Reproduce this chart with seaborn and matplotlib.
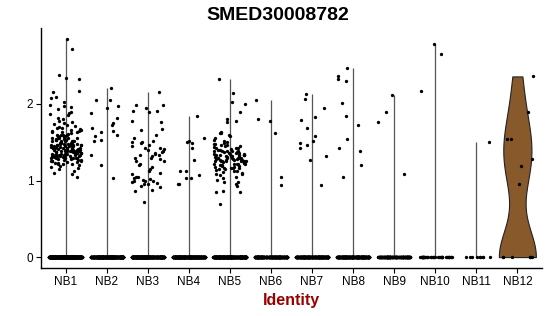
import numpy as np
import pandas as pd
import matplotlib
matplotlib.use("Agg")
import matplotlib.pyplot as plt
import seaborn as sns

groups = ["NB1", "NB2", "NB3", "NB4", "NB5", "NB6", "NB7", "NB8", "NB9", "NB10", "NB11", "NB12"]

# number of cells with zero expression per identity (estimated)
zero_counts = [600, 450, 450, 420, 450, 300, 320, 330, 180, 40, 9, 6]

nb1 = [2.85, 2.72, 2.38, 2.34, 2.33, 2.17, 2.16, 2.09, 2.08, 2.02, 1.99, 1.97, 1.96, 1.93, 1.90,
       1.88, 1.87, 1.85, 1.82, 1.80, 1.78, 1.77, 1.75, 1.74, 1.72, 1.71, 1.70, 1.69, 1.68, 1.67,
       1.66, 1.66, 1.65, 1.64, 1.63, 1.63, 1.62, 1.61, 1.60, 1.60, 1.59, 1.58, 1.58, 1.57, 1.57,
       1.56, 1.56, 1.55, 1.55, 1.54, 1.54, 1.53, 1.53, 1.52, 1.52, 1.52, 1.51, 1.51, 1.50, 1.50,
       1.50, 1.49, 1.49, 1.48, 1.48, 1.48, 1.47, 1.47, 1.47, 1.46, 1.46, 1.46, 1.45, 1.45, 1.45,
       1.44, 1.44, 1.44, 1.43, 1.43, 1.43, 1.42, 1.42, 1.42, 1.42, 1.41, 1.41, 1.41, 1.40, 1.40,
       1.40, 1.40, 1.39, 1.39, 1.39, 1.38, 1.38, 1.38, 1.38, 1.37, 1.37, 1.37, 1.36, 1.36, 1.36,
       1.35, 1.35, 1.35, 1.34, 1.34, 1.34, 1.33, 1.33, 1.33, 1.32, 1.32, 1.32, 1.31, 1.31, 1.30,
       1.30, 1.30, 1.29, 1.29, 1.28, 1.28, 1.27, 1.27, 1.26, 1.26, 1.25, 1.25, 1.24, 1.24, 1.23,
       1.22, 1.21, 1.20, 1.19, 1.18, 1.17, 1.15, 1.13, 1.10, 1.08, 1.05,
       1.51, 1.49, 1.47, 1.45, 1.44, 1.43, 1.41, 1.40, 1.39, 1.37, 1.36, 1.35, 1.33, 1.31, 1.29,
       1.46, 1.42, 1.38, 1.34, 1.30, 1.27, 1.55, 1.53, 1.48, 1.36, 1.32, 1.23, 1.21, 1.60, 1.65]
nb2 = [2.21, 2.05, 2.05, 1.97, 1.95, 1.88, 1.82, 1.75, 1.72, 1.68, 1.65, 1.63, 1.60, 1.58,
       1.53, 1.52, 1.33, 1.20, 1.03]
nb3 = [2.16, 1.99, 1.99, 1.95, 1.91, 1.91, 1.89, 1.78, 1.76, 1.67, 1.66, 1.60, 1.55, 1.52,
       1.50, 1.50, 1.49, 1.47, 1.45, 1.43, 1.42, 1.40, 1.38, 1.37, 1.36, 1.35, 1.33, 1.32, 1.30,
       1.28, 1.26, 1.25, 1.22, 1.20, 1.18, 1.15, 1.12, 1.10, 1.08, 1.05, 1.04, 1.02, 1.01, 1.00,
       0.99, 0.98, 0.97, 0.96, 0.95, 0.93, 0.91, 0.88, 0.86, 0.72, 1.41, 1.34, 1.29, 1.03, 0.99]
nb4 = [1.84, 1.55, 1.52, 1.50, 1.49, 1.43, 1.27, 1.13, 1.12, 1.07, 1.03, 1.03, 0.95, 0.95]
nb5 = [2.33, 2.14, 2.02, 2.00, 1.89, 1.80, 1.78, 1.76, 1.63, 1.62, 1.62, 1.60, 1.58, 1.55,
       1.53, 1.52, 1.50, 1.49, 1.48, 1.48, 1.47, 1.46, 1.45, 1.45, 1.44, 1.43, 1.42, 1.42, 1.41,
       1.40, 1.40, 1.39, 1.39, 1.38, 1.38, 1.37, 1.37, 1.36, 1.36, 1.35, 1.35, 1.35, 1.34, 1.34,
       1.33, 1.33, 1.33, 1.32, 1.32, 1.31, 1.31, 1.31, 1.30, 1.30, 1.30, 1.29, 1.29, 1.29, 1.28,
       1.28, 1.28, 1.27, 1.27, 1.27, 1.26, 1.26, 1.26, 1.25, 1.25, 1.25, 1.24, 1.24, 1.23, 1.23,
       1.22, 1.22, 1.21, 1.21, 1.20, 1.20, 1.19, 1.19, 1.18, 1.18, 1.17, 1.17, 1.16, 1.16, 1.15,
       1.15, 1.14, 1.13, 1.12, 1.11, 1.10, 1.09, 1.08, 1.07, 1.05, 1.03, 1.01, 0.98, 0.98, 0.95,
       0.93, 0.86, 0.85, 0.85, 0.70, 1.34, 1.32, 1.30, 1.28, 1.26, 1.24, 1.22, 1.36, 1.38, 1.27]
nb6 = [2.05, 1.80, 1.78, 1.62, 1.05, 0.94]
nb7 = [2.13, 2.07, 1.95, 1.83, 1.79, 1.69, 1.58, 1.52, 1.49, 1.47, 1.43, 1.32, 1.27, 0.94]
nb8 = [2.47, 2.37, 2.33, 2.30, 2.01, 1.84, 1.72, 1.54, 1.43, 1.39, 1.20, 1.05]
nb9 = [2.12, 1.90, 1.76, 1.08]
nb10 = [2.78, 2.65, 2.17]
nb11 = [1.50]
nb12 = [2.36, 1.89, 1.54, 1.54, 1.28, 1.19, 0.95]

nonzero = [nb1, nb2, nb3, nb4, nb5, nb6, nb7, nb8, nb9, nb10, nb11, nb12]

rows = []
for g, zc, vals in zip(groups, zero_counts, nonzero):
    for v in list(vals) + [0.0] * zc:
        rows.append((g, v))
df = pd.DataFrame(rows, columns=["ident", "expr"])

sns.set_theme(style="ticks")
plt.rcParams["font.family"] = ["Liberation Sans", "DejaVu Sans"]
plt.rcParams["text.color"] = "black"
plt.rcParams["xtick.color"] = "black"
plt.rcParams["ytick.color"] = "black"
plt.rcParams["axes.labelcolor"] = "black"

fig = plt.figure(figsize=(5.5, 3.16), dpi=100)
ax = fig.add_axes([41 / 550, 1 - 268 / 316, (542 - 41) / 550, (268 - 28) / 316])

# thin (degenerate) violins for mostly-zero identities
maxes = df[df.ident != "NB12"].groupby("ident", sort=False)["expr"].max()
pos = [groups.index(g) for g in maxes.index]
ax.vlines(pos, 0, maxes.values, color="#555555", linewidth=0.9, zorder=1)

# proper violin for NB12
sns.violinplot(data=df[df.ident == "NB12"], x="ident", y="expr", order=groups,
               color="#87592B", saturation=1, density_norm="width", cut=0, width=0.9,
               inner=None, linewidth=0.8, linecolor="#222222", bw_adjust=0.72, ax=ax)

np.random.seed(3)
sns.stripplot(data=df, x="ident", y="expr", order=groups, jitter=0.4, color="black",
              size=2.4, linewidth=0, ax=ax, zorder=3)

ymax = df.expr.max()
ax.set_ylim(-0.05 * ymax, ymax * 1.05)
ax.set_xlim(-0.6, len(groups) - 0.4)
ax.set_yticks([0, 1, 2])
ax.set_ylabel("")
ax.set_xlabel("Identity", fontsize=11.5, fontweight="bold", color="#9B0000", labelpad=4)
ax.tick_params(axis="both", labelsize=8.5, length=3.5, width=0.8, color="black",
               labelcolor="black", pad=2)
for s in ["top", "right"]:
    ax.spines[s].set_visible(False)
for s in ["left", "bottom"]:
    ax.spines[s].set_color("black")
    ax.spines[s].set_linewidth(1.0)

fig.text(278 / 550, 1 - 15 / 316, "SMED30008782", ha="center", va="center",
         fontsize=14, fontweight="bold", color="black")

fig.savefig("out.png", dpi=100)
